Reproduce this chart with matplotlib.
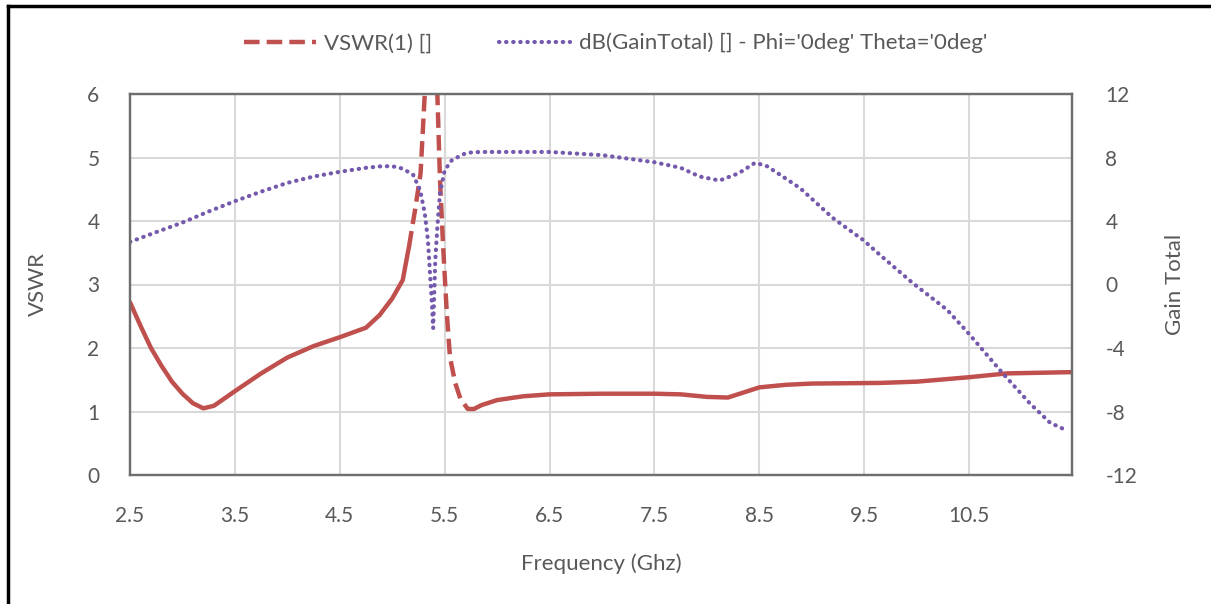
import matplotlib.pyplot as plt
from matplotlib.lines import Line2D

plt.rcParams['font.family'] = ['Lato', 'DejaVu Sans']
plt.rcParams['axes.unicode_minus'] = False

# VSWR of port 1
freq_vswr = [2.5, 2.6, 2.7, 2.8, 2.9, 3.0, 3.1, 3.2, 3.3, 3.5, 3.75, 4.0, 4.25,
             4.5, 4.75, 4.88, 5.0, 5.1, 5.16, 5.22, 5.27, 5.31, 5.35, 5.39,
             5.43, 5.455, 5.485, 5.52, 5.55, 5.6, 5.65, 5.72, 5.78, 5.85, 6.0,
             6.25, 6.5, 7.0, 7.5, 7.75, 8.0, 8.2, 8.35, 8.5, 8.75, 9.0, 9.65,
             10.0, 10.5, 10.86, 11.48]
vswr = [2.72, 2.35, 2.0, 1.72, 1.47, 1.28, 1.13, 1.05, 1.09, 1.32, 1.6, 1.85,
        2.03, 2.17, 2.32, 2.52, 2.78, 3.07, 3.6, 4.2, 4.75, 6.0, 8.5, 9.5,
        6.0, 4.65, 3.6, 2.55, 1.86, 1.45, 1.2, 1.04, 1.04, 1.1, 1.18, 1.24,
        1.27, 1.28, 1.28, 1.27, 1.23, 1.22, 1.3, 1.38, 1.42, 1.44, 1.45, 1.47,
        1.54, 1.6, 1.62]

# broadside gain in dB
freq_gain = [2.5, 2.75, 3.0, 3.25, 3.5, 3.75, 4.0, 4.25, 4.5, 4.75, 4.9, 5.0,
             5.1, 5.2, 5.265, 5.31, 5.34, 5.36, 5.38, 5.39, 5.41, 5.43, 5.455,
             5.5, 5.57, 5.71, 5.84, 6.0, 6.5, 7.0, 7.5, 7.75, 7.93, 8.12, 8.3,
             8.46, 8.57, 8.7, 8.89, 9.2, 9.49, 9.65, 9.96, 10.29, 10.49, 10.6,
             10.82, 11.08, 11.27, 11.43]
gain = [2.68, 3.3, 3.9, 4.6, 5.25, 5.85, 6.4, 6.8, 7.1, 7.35, 7.45, 7.45, 7.3,
        6.9, 5.95, 4.5, 2.8, 0.7, -1.4, -2.75, 1.5, 3.6, 5.75, 7.2, 7.85, 8.3,
        8.35, 8.35, 8.35, 8.15, 7.7, 7.35, 6.8, 6.55, 7.0, 7.67, 7.46, 6.9,
        6.06, 4.19, 2.8, 1.86, 0.1, -1.6, -3.05, -3.9, -5.6, -7.5, -8.7, -9.2]

xticks = [2.5, 3.5, 4.5, 5.5, 6.5, 7.5, 8.5, 9.5, 10.5]

red = '#C0504D'
purple = '#7559AC'
txt = '#595959'
grid = '#D9D9D9'

fig = plt.figure(figsize=(12.11, 6.04), dpi=100)
ax = fig.add_axes([130 / 1211, 1 - 475 / 604, 942 / 1211, 381 / 604])
ax2 = ax.twinx()

# red trace: drawn solid where the samples are dense, dashed across the resonance
i0 = freq_vswr.index(5.16)
i1 = freq_vswr.index(5.72)
ax.plot(freq_vswr[:i0 + 1], vswr[:i0 + 1], color=red, lw=3.2, solid_capstyle='round')
ax.plot(freq_vswr[i0:i1 + 1], vswr[i0:i1 + 1], color=red, lw=3.2, dashes=(3.5, 1.6))
ax.plot(freq_vswr[i1:], vswr[i1:], color=red, lw=3.2, solid_capstyle='round')

ax2.plot(freq_gain, gain, color=purple, lw=3, linestyle=(0, (0.1, 1.6)),
         dash_capstyle='round')

ax.set_xlim(2.5, 11.48)
ax.set_ylim(0, 6)
ax2.set_ylim(-12, 12)
ax.set_xticks(xticks)
ax.set_yticks(range(0, 7))
ax2.set_yticks(range(-12, 13, 4))

ax.grid(True, color=grid, lw=1.5)
ax.set_axisbelow(True)
for a in (ax, ax2):
    for s in a.spines.values():
        s.set_color('#6E6E6E')
        s.set_linewidth(1.6)
    a.tick_params(length=0, labelsize=15, labelcolor=txt)
ax.tick_params(axis='x', pad=22)
ax.tick_params(axis='y', pad=22)
ax2.tick_params(axis='y', pad=24)

ax.set_xlabel('Frequency (Ghz)', fontsize=16, color=txt)
ax.set_ylabel('VSWR', fontsize=16, color=txt)
ax2.set_ylabel('Gain Total', fontsize=16, color=txt)
ax.xaxis.set_label_coords(0.5, -0.205)
ax.yaxis.set_label_coords(-0.087, 0.5)
ax2.yaxis.set_label_coords(1.099, 0.5)

handles = [Line2D([], [], color=red, lw=3.2, dashes=(3.5, 1.6)),
           Line2D([], [], color=purple, lw=3, linestyle=(0, (0.1, 1.6)),
                  dash_capstyle='round')]
labels = ['VSWR(1) []', "dB(GainTotal) [] - Phi='0deg' Theta='0deg'"]
fig.legend(handles, labels, loc='center', bbox_to_anchor=(616 / 1211, 1 - 43 / 604),
           ncol=2, frameon=False, fontsize=16, labelcolor=txt, handlelength=3.2,
           columnspacing=3.0, handletextpad=0.4)

# frame around the chart area
fig.add_artist(Line2D([8 / 1211, 1], [1 - 6 / 604, 1 - 6 / 604], color='black', lw=2.5))
fig.add_artist(Line2D([8 / 1211, 8 / 1211], [0, 1 - 6 / 604], color='black', lw=2.5))

fig.savefig('out.png', dpi=100)
